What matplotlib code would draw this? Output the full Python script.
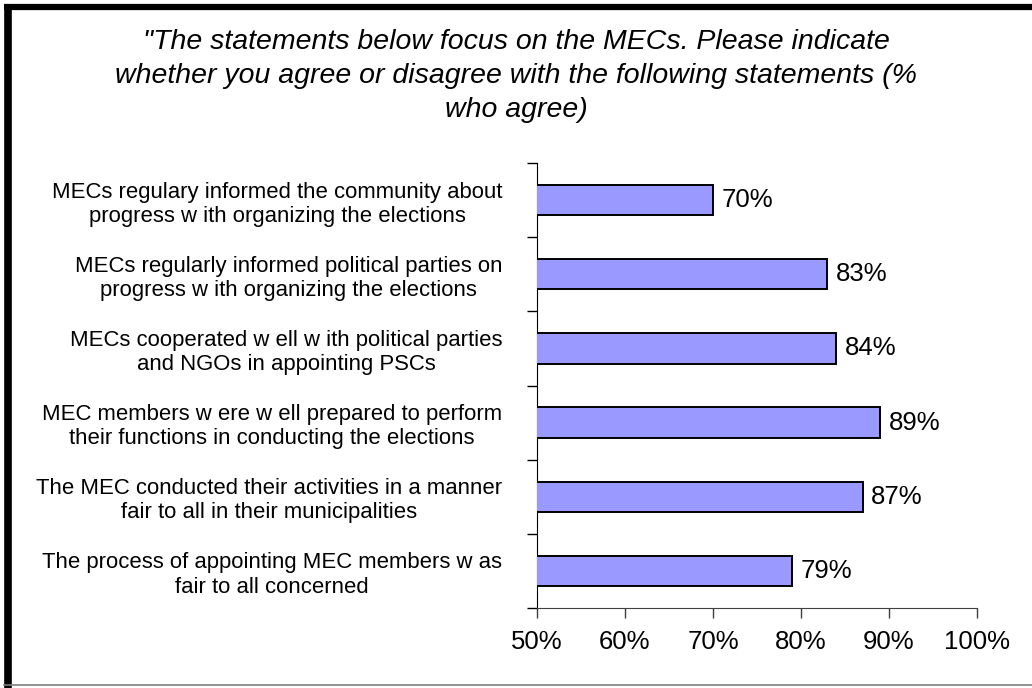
import numpy as np
import matplotlib
matplotlib.use('Agg')
import matplotlib.pyplot as plt
from matplotlib.lines import Line2D
from matplotlib.ticker import FixedLocator

plt.rcParams['font.family'] = ['Liberation Sans', 'DejaVu Sans']

# statements, top to bottom
statements = [
    'MECs regulary informed the community about\nprogress w ith organizing the elections',
    'MECs regularly informed political parties on\nprogress w ith organizing the elections',
    'MECs cooperated w ell w ith political parties\nand NGOs in appointing PSCs',
    'MEC members w ere w ell prepared to perform\ntheir functions in conducting the elections',
    'The MEC conducted their activities in a manner\nfair to all in their municipalities',
    'The process of appointing MEC members w as\nfair to all concerned',
]
agree_pct = [70, 83, 84, 89, 87, 79]
xticks = [50, 60, 70, 80, 90, 100]

title = ('"The statements below focus on the MECs. Please indicate\n'
         'whether you agree or disagree with the following statements (%\n'
         'who agree)')

fig = plt.figure(figsize=(10.32, 6.88), dpi=100)
ax = fig.add_axes([537/1032, 1-608/688, 440/1032, 445/688])

n = len(statements)
ypos = np.arange(n)[::-1]
ax.barh(ypos, agree_pct, height=0.41, color='#9999FF', edgecolor='black',
        linewidth=1.4, zorder=3)

for y, v in zip(ypos, agree_pct):
    ax.annotate(f'{v}%', xy=(v, y), xytext=(6, 0), textcoords='offset points',
                ha='left', va='center', fontsize=18.5)

ax.set_xlim(50, 100)
ax.set_ylim(-0.5, n - 0.5)
ax.set_xticks(xticks)
ax.set_xticklabels([f'{t}%' for t in xticks], fontsize=18.5)
ax.tick_params(axis='x', direction='out', length=7, width=1, color='#404040', pad=9)

ax.set_yticks(ypos)
ax.set_yticklabels(statements, fontsize=15.9)
for t in ax.get_yticklabels():
    t.set_multialignment('center')
ax.tick_params(axis='y', which='major', length=0, pad=25)
ax.yaxis.set_minor_locator(FixedLocator(np.arange(-0.5, n, 1.0)))
ax.tick_params(axis='y', which='minor', direction='out', length=7, width=1)

for side in ['top', 'right']:
    ax.spines[side].set_visible(False)
ax.spines['left'].set_color('black')
ax.spines['bottom'].set_color('#404040')

fig.text(516/1032, 1-76/688, title, ha='center', va='center', fontsize=20.5,
         style='italic', multialignment='center', linespacing=1.42)

# frame round the chart
fig.add_artist(Line2D([7.5/1032, 7.5/1032], [0, 1-4/688], transform=fig.transFigure,
                      color='black', linewidth=5.5, solid_capstyle='butt'))
fig.add_artist(Line2D([4/1032, 1], [1-7/688, 1-7/688], transform=fig.transFigure,
                      color='black', linewidth=4.5, solid_capstyle='butt'))
fig.add_artist(Line2D([4/1032, 1], [1-685/688, 1-685/688], transform=fig.transFigure,
                      color='#808080', linewidth=1.2))

fig.savefig('out.png', dpi=100)
